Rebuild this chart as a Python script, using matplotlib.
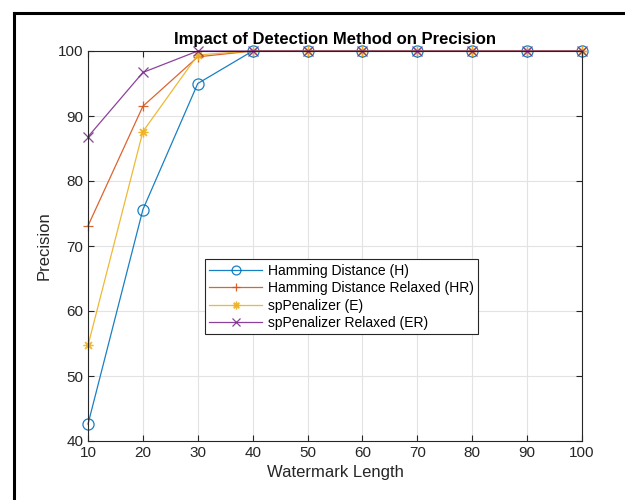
import numpy as np
import matplotlib.pyplot as plt
from matplotlib.lines import Line2D

plt.rcParams['font.family'] = ['Liberation Sans', 'DejaVu Sans']

# watermark lengths
lengths = [10, 20, 30, 40, 50, 60, 70, 80, 90, 100]

# precision values per detection method
hamming = [42.6, 75.6, 95.0, 100, 100, 100, 100, 100, 100, 100]
hamming_relaxed = [73.1, 91.5, 99.1, 100, 100, 100, 100, 100, 100, 100]
sp_penalizer = [54.7, 87.6, 99.4, 100, 100, 100, 100, 100, 100, 100]
sp_penalizer_relaxed = [86.8, 96.7, 100, 100, 100, 100, 100, 100, 100, 100]

labels = ['Hamming Distance (H)', 'Hamming Distance Relaxed (HR)',
          'spPenalizer (E)', 'spPenalizer Relaxed (ER)']
colors = ['#0072BD', '#D95319', '#EDB120', '#7E2F8E']
markers = ['o', '+', (8, 2, 0), 'x']

fig = plt.figure(figsize=(6.25, 5), dpi=100)
ax = fig.add_axes([0.1408, 0.118, 0.7904, 0.780])

series = [hamming, hamming_relaxed, sp_penalizer, sp_penalizer_relaxed]
for vals, lab, c, m in zip(series, labels, colors, markers):
    ax.plot(lengths, vals, color=c, marker=m, label=lab, lw=0.9,
            markersize=8 if m == 'o' else 7, markerfacecolor='none',
            markeredgewidth=0.9, clip_on=False, alpha=0.9)

ax.set_xlim(10, 100)
ax.set_ylim(40, 100)
ax.set_xticks(np.arange(10, 101, 10))
ax.set_yticks(np.arange(40, 101, 10))
ax.grid(True, color='#e3e3e3', lw=0.8)
ax.set_axisbelow(True)
ax.tick_params(direction='in', top=True, right=True, labelsize=11,
               colors='#262626', length=4)
for s in ax.spines.values():
    s.set_color('#262626')
    s.set_linewidth(0.8)

ax.set_xlabel('Watermark Length', fontsize=12, color='#262626')
ax.set_ylabel('Precision', fontsize=12, color='#262626')
ax.set_title('Impact of Detection Method on Precision', fontsize=12,
             fontweight='bold', pad=5)

leg = ax.legend(loc='lower left', bbox_to_anchor=(0.237, 0.274), fontsize=10,
                fancybox=False, edgecolor='#262626', framealpha=1,
                handlelength=3.8, borderpad=0.3, labelspacing=0.25,
                handletextpad=0.4, borderaxespad=0, markerscale=0.8)
leg.get_frame().set_linewidth(0.8)

# figure border
fig.add_artist(Line2D([0.0224, 1.0], [0.974, 0.974], color='black', lw=2.2,
                      transform=fig.transFigure))
fig.add_artist(Line2D([0.0224, 0.0224], [0.0, 0.974], color='black', lw=2.2,
                      transform=fig.transFigure))

fig.savefig('out.png', dpi=100)
